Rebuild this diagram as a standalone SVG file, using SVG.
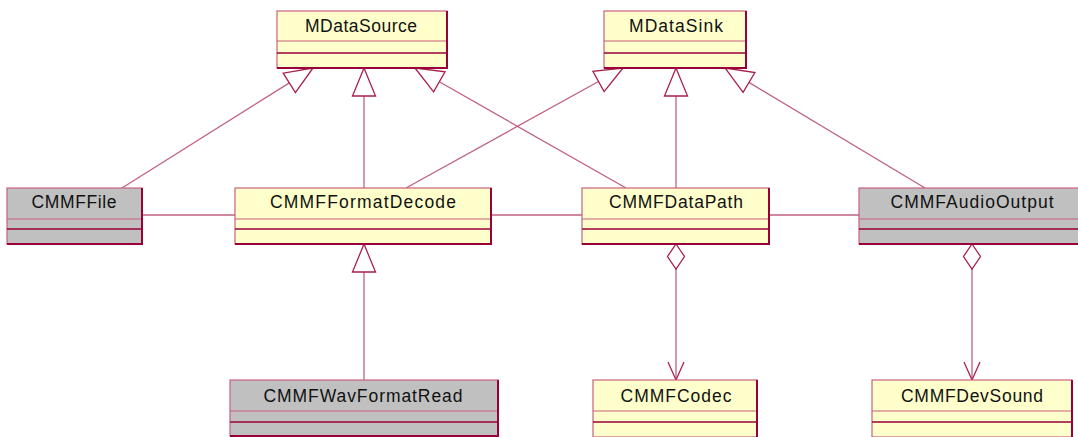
<svg xmlns="http://www.w3.org/2000/svg" width="1078" height="437" viewBox="0 0 1078 437">
  <style>
    .cls { fill: #ffffcc; stroke: #c8607e; stroke-width: 1.2; }
    .cls.ext { fill: #c0c0c0; }
    .edge { fill: none; stroke: #99003a; stroke-width: 2; }
    .div { stroke: #c8607e; stroke-width: 1.2; }
    .div2 { stroke: #99003a; stroke-width: 1.5; }
    .name { font-family: "Liberation Sans", Arial, sans-serif; font-size: 17.5px; fill: #111111; text-anchor: middle; }
    .link { fill: none; stroke: #c06080; stroke-width: 1.3; }
    .head { fill: #ffffff; stroke: #a8204c; stroke-width: 1.3; }
    .open { fill: none; stroke: #a8204c; stroke-width: 1.3; }
  </style>
  <rect width="1078" height="437" fill="#ffffff"/>

  <!-- connectors -->
  <g id="connectors">
    <!-- horizontal associations -->
    <line class="link" x1="142" y1="215" x2="235" y2="215"/>
    <line class="link" x1="491" y1="215" x2="582" y2="215"/>
    <line class="link" x1="769" y1="215" x2="859" y2="215"/>

    <!-- generalizations to MDataSource -->
    <line class="link" x1="122" y1="188" x2="289.3" y2="82.9"/>
    <polygon class="head" points="313,68 295.4,92.6 283.2,73.2"/>
    <line class="link" x1="364" y1="188" x2="364" y2="96"/>
    <polygon class="head" points="364,68 375.5,96 352.5,96"/>
    <line class="link" x1="626" y1="188" x2="439.3" y2="81.8"/>
    <polygon class="head" points="415,68 445,71.8 433.6,91.8"/>

    <!-- generalizations to MDataSink -->
    <line class="link" x1="406" y1="188" x2="598.5" y2="81.5"/>
    <polygon class="head" points="623,68 604.1,91.6 592.9,71.4"/>
    <line class="link" x1="676" y1="188" x2="676" y2="96"/>
    <polygon class="head" points="676,68 687.5,96 664.5,96"/>
    <line class="link" x1="925" y1="188" x2="749" y2="82.4"/>
    <polygon class="head" points="725,68 754.9,72.5 743.1,92.3"/>

    <!-- CMMFWavFormatRead generalizes CMMFFormatDecode -->
    <line class="link" x1="364" y1="380" x2="364" y2="272"/>
    <polygon class="head" points="364,244 375.5,272 352.5,272"/>

    <!-- aggregations -->
    <line class="link" x1="676" y1="269" x2="676" y2="380"/>
    <polygon class="head" points="676,244 684.5,256.5 676,269 667.5,256.5"/>
    <polyline class="open" points="668,362 676,380 684,362"/>

    <line class="link" x1="972" y1="269" x2="972" y2="380"/>
    <polygon class="head" points="972,244 980.5,256.5 972,269 963.5,256.5"/>
    <polyline class="open" points="964,362 972,380 980,362"/>
  </g>

  <!-- classes -->
  <g id="MDataSource">
    <rect class="cls" x="277" y="11" width="170" height="57"/>
    <line class="div" x1="277" y1="41" x2="447" y2="41"/>
    <line class="div2" x1="277" y1="53" x2="447" y2="53"/>
    <polyline class="edge" points="447,11 447,68 277,68"/>
    <text class="name" x="361" y="32" textLength="112" lengthAdjust="spacing">MDataSource</text>
  </g>

  <g id="MDataSink">
    <rect class="cls" x="604" y="11" width="142" height="57"/>
    <line class="div" x1="604" y1="41" x2="746" y2="41"/>
    <line class="div2" x1="604" y1="53" x2="746" y2="53"/>
    <polyline class="edge" points="746,11 746,68 604,68"/>
    <text class="name" x="676" y="32" textLength="94" lengthAdjust="spacing">MDataSink</text>
  </g>

  <g id="CMMFFile">
    <rect class="cls ext" x="7" y="188" width="135" height="56"/>
    <line class="div" x1="7" y1="219" x2="142" y2="219"/>
    <line class="div2" x1="7" y1="229" x2="142" y2="229"/>
    <polyline class="edge" points="142,188 142,244 7,244"/>
    <text class="name" x="74" y="208" textLength="85" lengthAdjust="spacing">CMMFFile</text>
  </g>

  <g id="CMMFFormatDecode">
    <rect class="cls" x="235" y="188" width="256" height="56"/>
    <line class="div" x1="235" y1="219" x2="491" y2="219"/>
    <line class="div2" x1="235" y1="229" x2="491" y2="229"/>
    <polyline class="edge" points="491,188 491,244 235,244"/>
    <text class="name" x="363" y="208" textLength="186" lengthAdjust="spacing">CMMFFormatDecode</text>
  </g>

  <g id="CMMFDataPath">
    <rect class="cls" x="582" y="188" width="187" height="56"/>
    <line class="div" x1="582" y1="219" x2="769" y2="219"/>
    <line class="div2" x1="582" y1="229" x2="769" y2="229"/>
    <polyline class="edge" points="769,188 769,244 582,244"/>
    <text class="name" x="676" y="208" textLength="134" lengthAdjust="spacing">CMMFDataPath</text>
  </g>

  <g id="CMMFAudioOutput">
    <rect class="cls ext" x="859" y="188" width="224" height="56"/>
    <line class="div" x1="859" y1="219" x2="1083" y2="219"/>
    <line class="div2" x1="859" y1="229" x2="1083" y2="229"/>
    <line class="edge" x1="859" y1="244" x2="1083" y2="244"/>
    <text class="name" x="972" y="208" textLength="163" lengthAdjust="spacing">CMMFAudioOutput</text>
  </g>

  <g id="CMMFWavFormatRead">
    <rect class="cls ext" x="230" y="380" width="268" height="56"/>
    <line class="div" x1="230" y1="411" x2="498" y2="411"/>
    <line class="div2" x1="230" y1="422" x2="498" y2="422"/>
    <polyline class="edge" points="498,380 498,436 230,436"/>
    <text class="name" x="363" y="402" textLength="199" lengthAdjust="spacing">CMMFWavFormatRead</text>
  </g>

  <g id="CMMFCodec">
    <rect class="cls" x="593" y="380" width="164" height="57"/>
    <line class="div" x1="593" y1="411" x2="757" y2="411"/>
    <line class="div2" x1="593" y1="422" x2="757" y2="422"/>
    <line class="edge" x1="757" y1="380" x2="757" y2="437"/>
    <text class="name" x="676" y="402" textLength="111" lengthAdjust="spacing">CMMFCodec</text>
  </g>

  <g id="CMMFDevSound">
    <rect class="cls" x="872" y="380" width="200" height="57"/>
    <line class="div" x1="872" y1="411" x2="1072" y2="411"/>
    <line class="div2" x1="872" y1="422" x2="1072" y2="422"/>
    <line class="edge" x1="1072" y1="380" x2="1072" y2="437"/>
    <text class="name" x="972" y="402" textLength="142" lengthAdjust="spacing">CMMFDevSound</text>
  </g>
</svg>
